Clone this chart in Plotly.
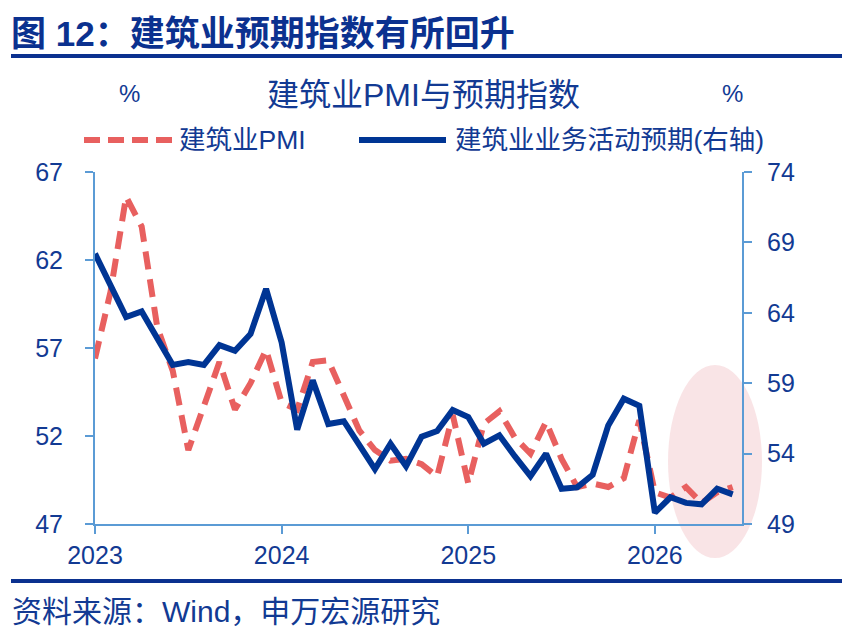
import plotly.graph_objects as go

months = [f"{y}-{m:02d}" for y in (2023, 2024, 2025, 2026) for m in range(1, 13)][:42]
pmi = [56.4, 60.2, 65.6, 63.9, 58.2, 55.7, 51.2, 53.8, 56.2, 53.5, 55.0, 56.9,
       53.9, 53.5, 56.2, 56.3, 54.4, 52.3, 51.2, 50.6, 50.7, 50.4, 49.7, 53.2,
       49.3, 52.7, 53.4, 51.9, 51.0, 52.8, 50.7, 49.1, 49.3, 49.1, 49.6, 52.9,
       48.8, 48.5, 49.1, 48.2, 48.8, 49.1]
expect = [68.2, 66.0, 63.7, 64.1, 62.2, 60.3, 60.5, 60.3, 61.7, 61.3, 62.5, 65.7,
          61.9, 55.7, 59.2, 56.1, 56.3, 54.6, 52.9, 54.7, 53.1, 55.2, 55.6, 57.1,
          56.6, 54.7, 55.3, 53.8, 52.4, 54.0, 51.5, 51.6, 52.5, 56.0, 57.9, 57.4,
          49.8, 50.9, 50.5, 50.4, 51.5, 51.1]
tick_months = ["2023-01", "2024-01", "2025-01", "2026-01"]
tick_text = ["2023", "2024", "2025", "2026"]
name_pmi = "建筑业PMI"
name_exp = "建筑业业务活动预期(右轴)"

FONT = "Liberation Sans, Arial, Noto Sans CJK SC"
NAVY = "#0b318f"
TXT = "#123a93"
AX = "#5b9bd5"
RED = "#e8605f"
BLUE = "#003594"

fig = go.Figure()
fig.add_trace(go.Scatter(x=months, y=pmi, name=name_pmi, mode="lines",
                         line=dict(color=RED, width=6, dash="18px,10px"), yaxis="y"))
fig.add_trace(go.Scatter(x=months, y=expect, name=name_exp, mode="lines",
                         line=dict(color=BLUE, width=6), yaxis="y2"))

L, R, T, B = 95, 110, 172, 108
W, H = 852, 632
pw, ph = W - L - R, H - T - B
def px(x):
    return (x - L) / pw
def py(y):
    return (H - B - y) / ph

shapes = [
    dict(type="circle", xref="paper", yref="paper", x0=px(668), x1=px(762), y0=py(558), y1=py(365),
         fillcolor="rgba(244,205,210,0.55)", line=dict(width=0), layer="below"),
    dict(type="line", xref="paper", yref="paper", x0=px(11), x1=px(842), y0=py(56), y1=py(56),
         line=dict(color=NAVY, width=4)),
    dict(type="line", xref="paper", yref="paper", x0=px(11), x1=px(842), y0=py(581), y1=py(581),
         line=dict(color=NAVY, width=4)),
    dict(type="line", xref="paper", yref="paper", x0=px(84), x1=px(174), y0=py(140), y1=py(140),
         line=dict(color=RED, width=6, dash="16px,8px")),
    dict(type="line", xref="paper", yref="paper", x0=px(359), x1=px(446), y0=py(140), y1=py(140),
         line=dict(color=BLUE, width=6)),
]

annotations = [
    dict(text="建筑业PMI与预期指数", xref="paper", yref="paper", x=px(423), y=py(95),
         showarrow=False, font=dict(size=32, color=TXT, family=FONT), xanchor="center", yanchor="middle"),
    dict(text="%", xref="paper", yref="paper", x=px(129), y=py(93), showarrow=False,
         font=dict(size=24, color=TXT, family=FONT), xanchor="center", yanchor="middle"),
    dict(text="%", xref="paper", yref="paper", x=px(732), y=py(93), showarrow=False,
         font=dict(size=24, color=TXT, family=FONT), xanchor="center", yanchor="middle"),
    dict(text=name_pmi, xref="paper", yref="paper", x=px(177), y=py(140), showarrow=False,
         font=dict(size=26.5, color=TXT, family=FONT), xanchor="left", yanchor="middle"),
    dict(text=name_exp, xref="paper", yref="paper", x=px(453), y=py(140), showarrow=False,
         font=dict(size=26.5, color=TXT, family=FONT), xanchor="left", yanchor="middle"),
    dict(text="资料来源：Wind，申万宏源研究", xref="paper", yref="paper", x=px(10), y=py(611),
         showarrow=False, font=dict(size=30, color=TXT, family=FONT), xanchor="left", yanchor="middle"),
]

fig.update_layout(
    width=W, height=H, margin=dict(l=L, r=R, t=T, b=B, pad=0),
    paper_bgcolor="white", plot_bgcolor="white", showlegend=False,
    font=dict(family=FONT, color=TXT, size=25),
    title=dict(text="<b>图 12：建筑业预期指数有所回升</b>", x=11 / W, xref="container", xanchor="left",
               y=1 - 34 / H, yref="container", yanchor="middle",
               font=dict(size=35, color=NAVY, family=FONT)),
    xaxis=dict(type="category", range=[0, 41.6], tickmode="array", tickvals=tick_months, ticktext=tick_text,
               showgrid=False, zeroline=False, showline=True, linecolor=AX, linewidth=2,
               ticks="outside", ticklen=8, tickcolor=AX, tickwidth=2,
               tickfont=dict(size=25, color=TXT, family=FONT)),
    yaxis=dict(range=[47, 67], tick0=47, dtick=5, showgrid=False, zeroline=False, showline=True,
               linecolor=AX, linewidth=2, ticks="outside", ticklen=8, tickcolor=AX, tickwidth=2,
               tickfont=dict(size=25, color=TXT, family=FONT), ticklabelstandoff=17),
    yaxis2=dict(range=[49, 74], tick0=49, dtick=5, overlaying="y", side="right", showgrid=False, zeroline=False,
                showline=True, linecolor=AX, linewidth=2, ticks="outside", ticklen=8, tickcolor=AX,
                tickwidth=2, tickfont=dict(size=25, color=TXT, family=FONT), ticklabelstandoff=10),
    shapes=shapes, annotations=annotations,
)

fig.write_html("out.html")
